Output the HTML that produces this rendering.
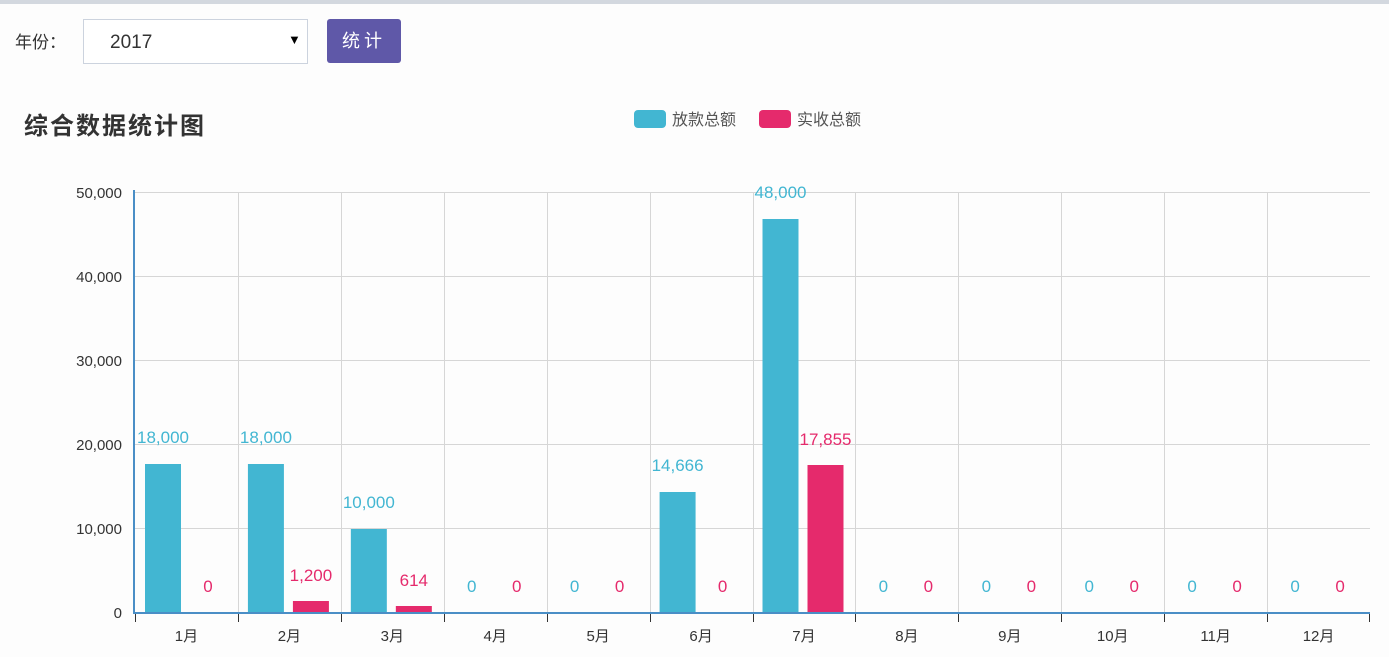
<!DOCTYPE html><html><head><meta charset="utf-8"><style>
body{margin:0;width:1389px;height:657px;background:#fdfdfd;font-family:"Liberation Sans","Noto Sans CJK SC",sans-serif;overflow:hidden;position:relative}
.top{position:absolute;left:0;top:0;width:1389px;height:4px;background:#d3d8df}
.lab{position:absolute;left:15px;top:30px;font-size:17px;color:#333;font-family:"Noto Sans CJK SC",sans-serif;line-height:22px}
.sel{position:absolute;left:83px;top:19px;width:225px;height:45px;border:1px solid #ccd3de;background:#fff;box-sizing:border-box}
.sel span{position:absolute;left:26px;top:12px;font-size:19px;color:#333}
.sel i{position:absolute;left:204px;top:12px;font-style:normal;font-size:13px}
.btn{position:absolute;left:327px;top:19px;width:74px;height:44px;background:#5f58a8;border-radius:3px;color:#fff;font-size:18px;text-align:center;line-height:44px;letter-spacing:4px}
</style></head><body>
<div class="top"></div>
<div class="lab">年份：</div>
<div class="sel"><span>2017</span><i>▼</i></div>
<div class="btn">统计</div>
<svg width="1389" height="657" style="position:absolute;left:0;top:0" font-family="Liberation Sans, Noto Sans CJK SC, sans-serif">
<text x="24" y="134" font-size="24" fill="#333" font-weight="bold" letter-spacing="2">综合数据统计图</text>
<rect x="634" y="110" width="32" height="18" rx="4" fill="#42b6d2"/><text x="672" y="125" font-size="16" fill="#555">放款总额</text>
<rect x="759" y="110" width="32" height="18" rx="4" fill="#e52a6c"/><text x="797" y="125" font-size="16" fill="#555">实收总额</text>
<g stroke="#d6d6d6" stroke-width="1">
<line x1="135" y1="192.5" x2="1370" y2="192.5"/><line x1="135" y1="276.5" x2="1370" y2="276.5"/><line x1="135" y1="360.5" x2="1370" y2="360.5"/><line x1="135" y1="444.5" x2="1370" y2="444.5"/><line x1="135" y1="528.5" x2="1370" y2="528.5"/>
</g>
<g id="v" stroke="#d6d6d6"></g>
<g font-size="15" fill="#333" text-anchor="end">
<text x="122" y="198">50,000</text><text x="122" y="282">40,000</text><text x="122" y="366">30,000</text><text x="122" y="450">20,000</text><text x="122" y="534">10,000</text><text x="122" y="618">0</text>
</g>
<g id="bars"></g>
<line x1="134" y1="190" x2="134" y2="614" stroke="#4a8ec6" stroke-width="2"/>
<line x1="134" y1="613" x2="1370" y2="613" stroke="#4a8ec6" stroke-width="2"/>
</svg>
<script>
var s=document.querySelector('svg'),v=document.getElementById('v'),b=document.getElementById('bars'),ns='http://www.w3.org/2000/svg';
function el(p,t,a,txt){var e=document.createElementNS(ns,t);for(var k in a)e.setAttribute(k,a[k]);if(txt!=null)e.textContent=txt;p.appendChild(e);return e}
var W=(1370-135)/12;
var A=[18000,18000,10000,0,0,14666,48000,0,0,0,0,0],B=[0,1200,614,0,0,0,17855,0,0,0,0,0];
var AT=[464,464,529,0,0,492,219],BT=[0,601,606,0,0,0,465];
function f(n){return n.toLocaleString('en-US')}
for(var i=0;i<12;i++){var x0=135+i*W;
 if(i>0)el(v,'line',{x1:Math.round(x0)+.5,y1:192,x2:Math.round(x0)+.5,y2:612});
 el(b,'line',{x1:Math.round(x0)+.5,y1:613,x2:Math.round(x0)+.5,y2:622,stroke:'#333'});
 el(b,'text',{x:x0+W/2,y:641,'font-size':15,fill:'#333','text-anchor':'middle'},(i+1)+'月');
 var ax=x0+10,bx=x0+55;
 if(A[i]){var t=AT[i];el(b,'rect',{x:ax,y:t,width:36,height:612-t,fill:'#42b6d2'});el(b,'text',{x:ax+18,y:t-21,'font-size':17,fill:'#42b6d2','text-anchor':'middle'},f(A[i]))}
 else el(b,'text',{x:ax+18,y:592,'font-size':17,fill:'#42b6d2','text-anchor':'middle'},'0');
 if(B[i]){var t=BT[i];el(b,'rect',{x:bx,y:t,width:36,height:612-t,fill:'#e52a6c'});el(b,'text',{x:bx+18,y:t-20,'font-size':17,fill:'#e52a6c','text-anchor':'middle'},f(B[i]))}
 else el(b,'text',{x:bx+18,y:592,'font-size':17,fill:'#e52a6c','text-anchor':'middle'},'0');
}
el(b,'line',{x1:1369.5,y1:613,x2:1369.5,y2:622,stroke:'#333'});
</script>
</body></html>
